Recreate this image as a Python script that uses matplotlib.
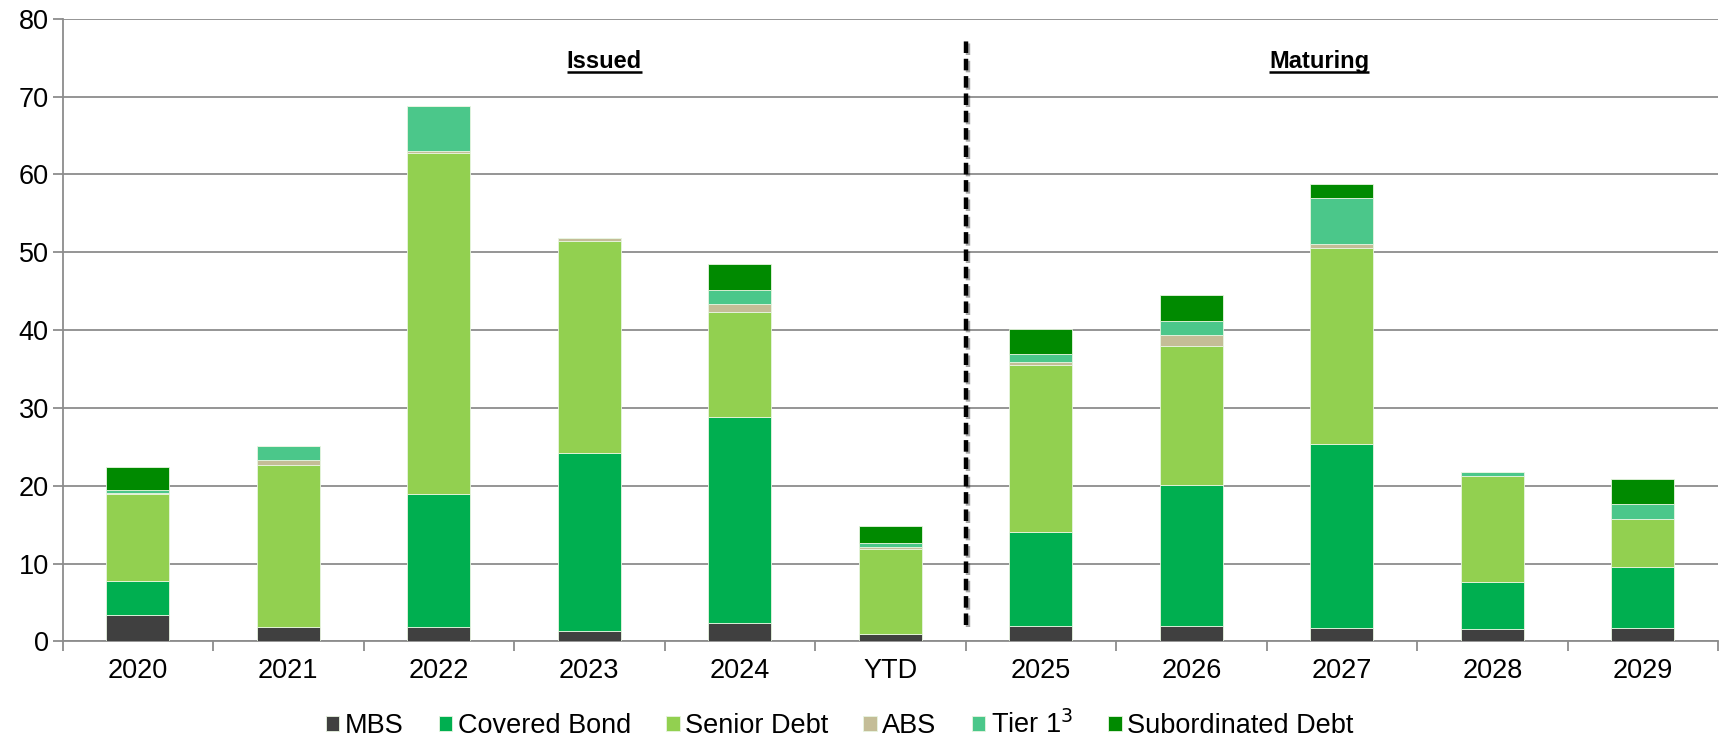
import numpy as np
import matplotlib
matplotlib.use("Agg")
import matplotlib.pyplot as plt
import matplotlib.patheffects as pe

plt.rcParams['font.family'] = ['Liberation Sans', 'DejaVu Sans']

# Dati
categories = ["2020", "2021", "2022", "2023", "2024", "YTD",
              "2025", "2026", "2027", "2028", "2029"]
series_names = ["MBS", "Covered Bond", "Senior Debt", "ABS", "Tier 1$^{3}$", "Subordinated Debt"]
mbs = [3.4, 1.9, 1.8, 1.3, 2.4, 1.0, 2.0, 2.0, 1.7, 1.6, 1.7]
covered = [4.4, 0.0, 17.1, 22.9, 26.4, 0.0, 12.0, 18.1, 23.6, 6.0, 7.8]
senior = [11.1, 20.7, 43.8, 27.2, 13.5, 10.9, 21.5, 17.9, 25.3, 13.7, 6.2]
abs_ = [0.2, 0.7, 0.3, 0.4, 1.0, 0.2, 0.4, 1.3, 0.4, 0.0, 0.0]
tier1 = [0.4, 1.8, 5.8, 0.0, 1.9, 0.6, 1.0, 1.8, 6.0, 0.4, 2.0]
subord = [2.9, 0.0, 0.0, 0.0, 3.3, 2.1, 3.2, 3.4, 1.7, 0.0, 3.2]
colors = ["#404040", "#00AF50", "#92D050", "#C4BD97", "#4BC78A", "#008A00"]

data = [mbs, covered, senior, abs_, tier1, subord]

fig = plt.figure(figsize=(17.25, 7.38), dpi=100)
ax = fig.add_axes([0.0363, 0.1309, 0.9597, 0.8438])

x = np.arange(len(categories))
bottom = np.zeros(len(categories))
for vals, name, col in zip(data, series_names, colors):
    ax.bar(x, vals, 0.42, bottom=bottom, color=col, label=name,
           edgecolor="#e8f5e0", linewidth=0.6, zorder=3)
    bottom += np.array(vals)

ax.set_ylim(0, 80)
ax.set_xlim(-0.5, len(categories) - 0.5)
ax.set_yticks(np.arange(0, 81, 10))
ax.yaxis.grid(True, color="#8c8c8c", linewidth=1.3, zorder=0)
ax.set_axisbelow(True)

ax.set_xticks(x)
ax.set_xticklabels(categories)
ax.set_xticks(np.arange(-0.5, len(categories), 1), minor=True)
ax.tick_params(axis="x", which="major", length=0, pad=12, labelsize=19.5)
ax.tick_params(axis="x", which="minor", length=7, width=1.3, color="#8c8c8c", direction="out")
ax.tick_params(axis="y", length=7, width=1.3, color="#8c8c8c", pad=3, labelsize=19.5)

for s in ["top", "right"]:
    ax.spines[s].set_visible(False)
for s in ["left", "bottom"]:
    ax.spines[s].set_color("#8c8c8c")
    ax.spines[s].set_linewidth(1.3)

# linea divisoria
ax.plot([5.5, 5.5], [2.1, 77.2], color="black", linewidth=3.2, dashes=(2.6, 1.3),
        zorder=4, path_effects=[pe.SimpleLineShadow(offset=(1.5, -1.5), alpha=0.35), pe.Normal()])

labels = [ax.text(3.1, 73.7, "Issued", ha="center", va="baseline", fontsize=17, fontweight="bold"),
          ax.text(7.85, 73.7, "Maturing", ha="center", va="baseline", fontsize=17, fontweight="bold")]

fig.legend(loc="center", bbox_to_anchor=(0.4867, 0.018), ncol=6, frameon=False,
           fontsize=19.5, handlelength=0.5, handleheight=0.5, handletextpad=0.2,
           columnspacing=1.3)

# sottolineatura
fig.canvas.draw()
inv = ax.transData.inverted()
for t in labels:
    bb = t.get_window_extent()
    (x0, y0), (x1, _) = inv.transform([[bb.x0, bb.y0], [bb.x1, bb.y1]])
    ax.plot([x0, x1], [73.2, 73.2], color="black", linewidth=1.8, zorder=4,
            solid_capstyle="butt")

fig.savefig("out.png", dpi=100)
